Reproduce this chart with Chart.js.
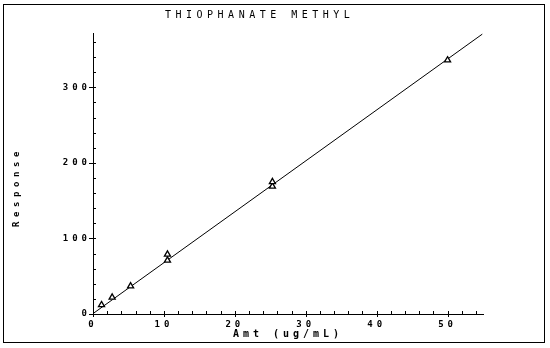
<!DOCTYPE html>
<html>
<head>
<meta charset="utf-8">
<script src="https://cdn.jsdelivr.net/npm/chart.js@4.4.1/dist/chart.umd.min.js"></script>
<style>
  body { margin: 0; background: #fff; }
  #wrap { width: 550px; height: 348px; }
</style>
</head>
<body>
<div id="wrap"><canvas id="calib-chart"></canvas></div>
<script>
// calibration standards
const amounts = [1.2, 2.7, 5.3, 10.5, 10.5, 25.3, 25.3, 50.0];
const responses = [12, 22, 37, 71, 79, 169, 175, 336];

// least squares line, drawn end to end
const fitAmounts = [0, 54.9];
const fitResponses = [0.5, 370.5];

const xTickLabels = [0, 10, 20, 30, 40, 50];
const yTickLabels = [0, 100, 200, 300];

const chartTitle = 'THIOPHANATE METHYL';
const xTitle = 'Amt (ug/mL)';
const yTitle = 'Response';

const plotFont = '"DejaVu Sans Mono", monospace';

// plotter look: wide letters, inward tick marks, outer frame
const plotterStyle = {
    id: 'plotterStyle',
    beforeDraw(chart) {
        chart.ctx.letterSpacing = '4px';
    },
    afterDraw(chart) {
        const {ctx, chartArea} = chart;
        const xs = chart.scales.x;
        const ys = chart.scales.y;
        ctx.save();
        ctx.strokeStyle = '#000';
        ctx.lineWidth = 1;
        ctx.beginPath();
        xs.ticks.forEach(t => {
            if (t.value % 2 !== 0) return;
            const px = Math.round(xs.getPixelForValue(t.value)) + 0.5;
            const major = t.value % 10 === 0;
            ctx.moveTo(px, chartArea.bottom - 3);
            ctx.lineTo(px, chartArea.bottom + (major ? 3 : 0));
        });
        ys.ticks.forEach(t => {
            if (t.value % 20 !== 0) return;
            const py = Math.round(ys.getPixelForValue(t.value)) + 0.5;
            const major = t.value % 100 === 0;
            ctx.moveTo(chartArea.left - (major ? 4 : 0), py);
            ctx.lineTo(chartArea.left + 3, py);
        });
        ctx.stroke();

        ctx.strokeRect(3.5, 4.5, 541, 338);

        ctx.fillStyle = '#000';
        ctx.font = '10px ' + plotFont;
        ctx.letterSpacing = '4.5px';
        ctx.textAlign = 'left';
        ctx.textBaseline = 'middle';
        ctx.fillText(chartTitle, 165, 15);

        ctx.translate(17, 187);
        ctx.rotate(-Math.PI / 2);
        ctx.font = 'bold 9px ' + plotFont;
        ctx.letterSpacing = '4.6px';
        ctx.textAlign = 'center';
        ctx.fillText(yTitle, 0, 0);
        ctx.restore();
    }
};

function createCalibrationChart() {
    const ctx = document.getElementById('calib-chart').getContext('2d');
    const standards = amounts.map((a, i) => ({x: a, y: responses[i]}));
    const fitLine = fitAmounts.map((a, i) => ({x: a, y: fitResponses[i]}));

    new Chart(ctx, {
        type: 'scatter',
        data: {
            datasets: [{
                label: 'Standards',
                data: standards,
                pointStyle: 'triangle',
                pointRadius: 3.5,
                pointBorderWidth: 1.3,
                borderColor: '#000',
                backgroundColor: '#fff',
                showLine: false
            }, {
                label: 'Fit',
                data: fitLine,
                showLine: true,
                borderColor: '#000',
                borderWidth: 1,
                pointRadius: 0
            }]
        },
        options: {
            responsive: true,
            maintainAspectRatio: false,
            animation: false,
            devicePixelRatio: 1,
            layout: {
                padding: {top: 33, right: 67, left: 0, bottom: 0}
            },
            plugins: {
                legend: {display: false},
                title: {display: false},
                tooltip: {enabled: false}
            },
            scales: {
                x: {
                    type: 'linear',
                    min: 0,
                    max: 55,
                    afterFit: scale => { scale.height = 34; },
                    grid: {display: false, drawTicks: false},
                    border: {display: true, color: '#000', width: 1},
                    ticks: {
                        stepSize: 2,
                        autoSkip: false,
                        includeBounds: false,
                        maxRotation: 0,
                        padding: 5,
                        color: '#000',
                        font: {family: plotFont, size: 9, weight: 'bold'},
                        callback: v => xTickLabels.includes(v) ? String(v) : ''
                    },
                    title: {
                        display: true,
                        text: xTitle,
                        color: '#000',
                        font: {family: plotFont, size: 10, weight: 'bold'},
                        padding: {top: 0, bottom: 8}
                    }
                },
                y: {
                    type: 'linear',
                    min: 0,
                    max: 372,
                    afterFit: scale => { scale.width = 93; },
                    grid: {display: false, drawTicks: false},
                    border: {display: true, color: '#000', width: 1},
                    ticks: {
                        stepSize: 20,
                        autoSkip: false,
                        includeBounds: false,
                        padding: 2,
                        color: '#000',
                        font: {family: plotFont, size: 9, weight: 'bold'},
                        callback: v => yTickLabels.includes(v) ? String(v) : ''
                    }
                }
            }
        },
        plugins: [plotterStyle]
    });
}

createCalibrationChart();
</script>
</body>
</html>
